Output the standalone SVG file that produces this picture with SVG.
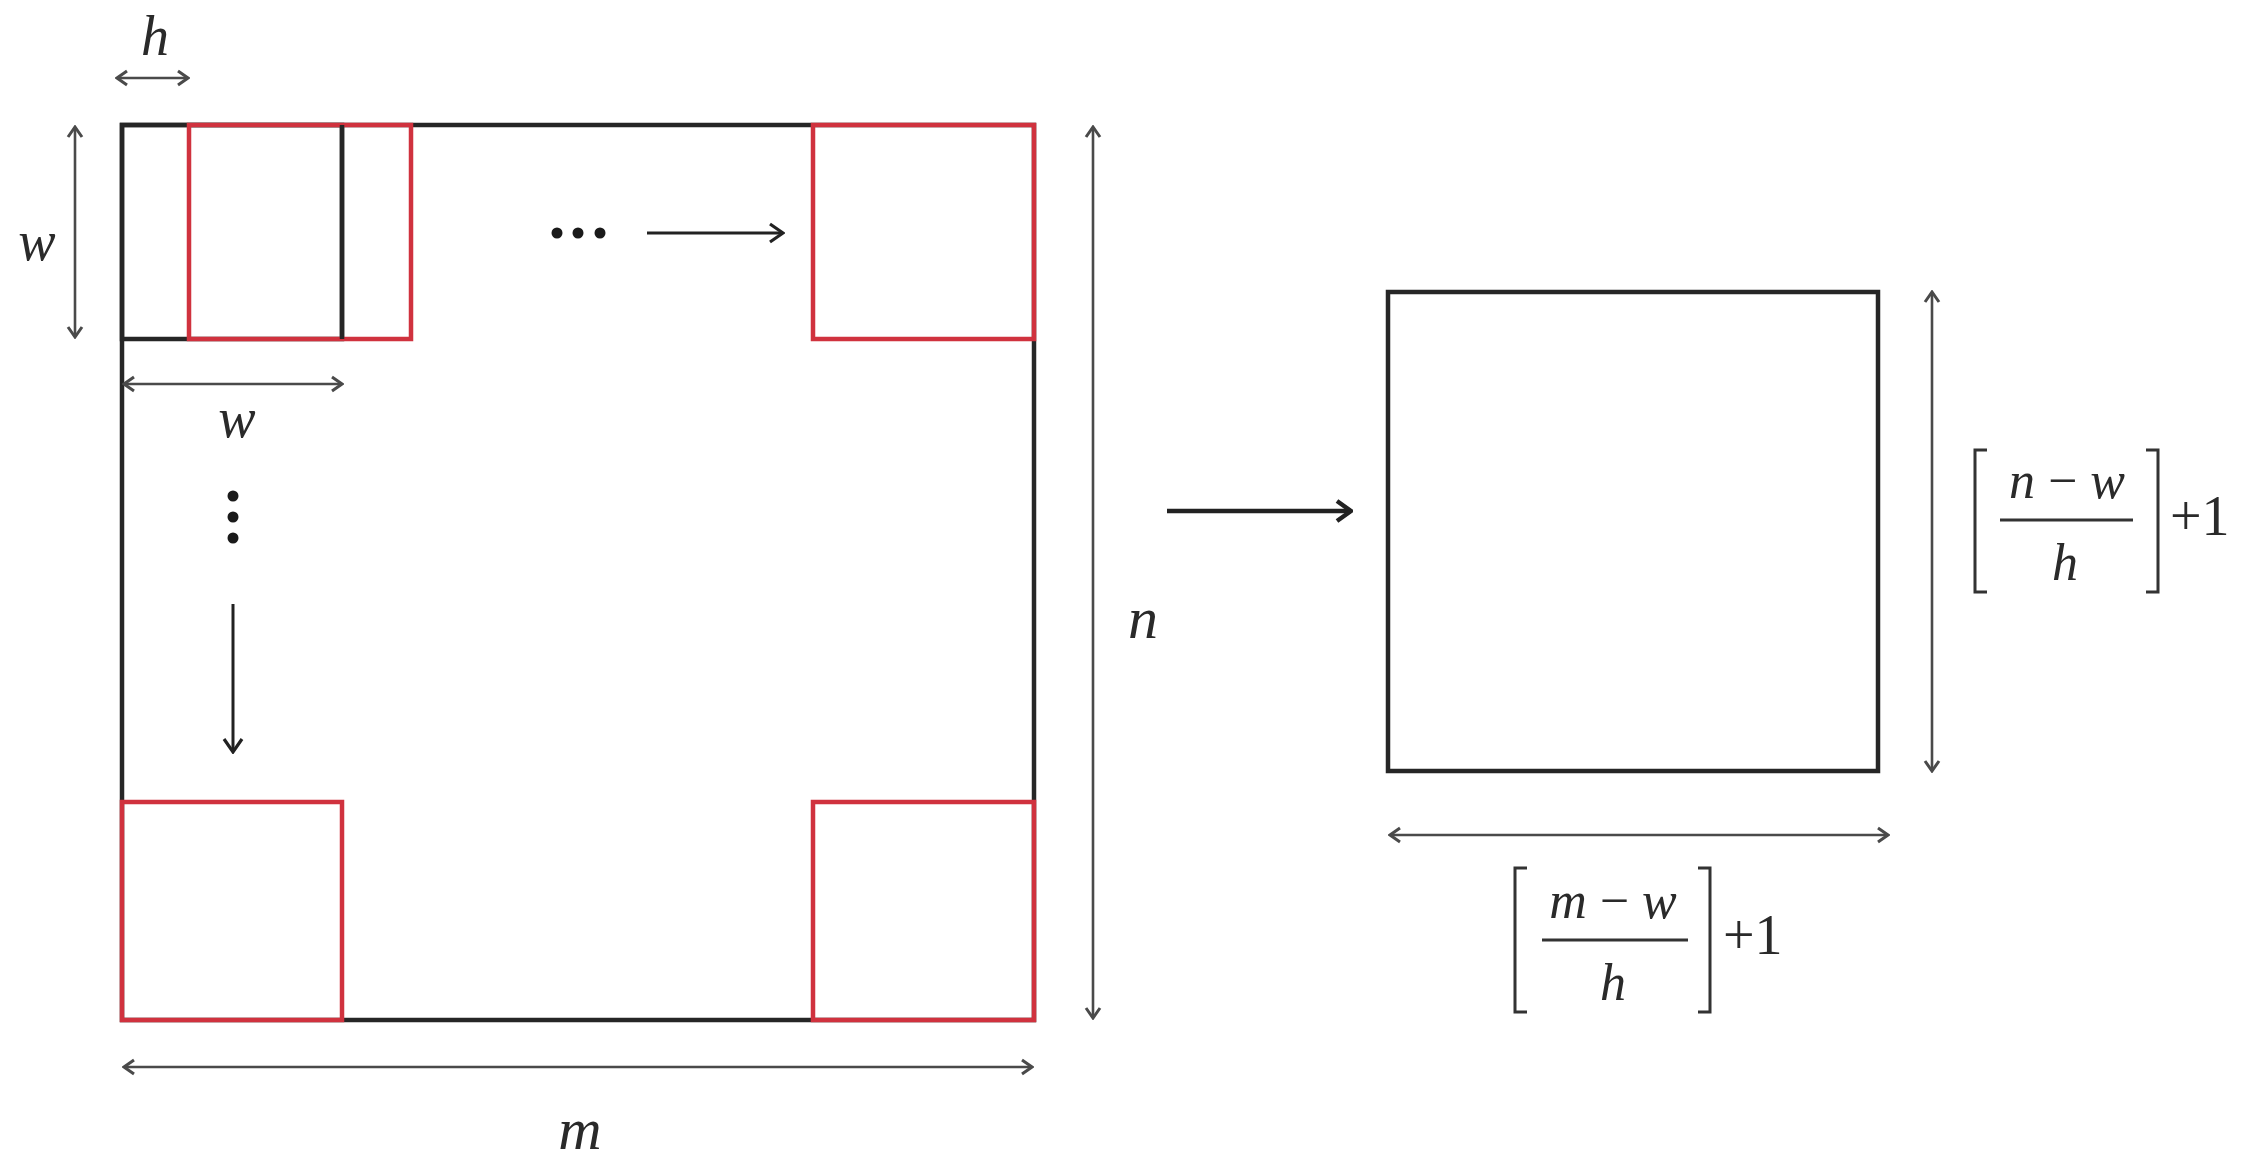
<svg xmlns="http://www.w3.org/2000/svg" width="2246" height="1167" viewBox="0 0 2246 1167">
<style>
.blk{fill:none;stroke:#262626;stroke-width:4.5}
.red{fill:none;stroke:#d0323e;stroke-width:4.5}
.dim{fill:none;stroke:#4a4a4a;stroke-width:2.6;marker-start:url(#ha);marker-end:url(#ha)}
.arr{fill:none;stroke:#222;stroke-width:3;marker-end:url(#ha2)}
.big{fill:none;stroke:#222;stroke-width:4.5;marker-end:url(#ha3)}
.lbl{font-family:"Liberation Serif",serif;font-style:italic;fill:#2a2a2a}
.up{font-style:normal}
.dot{fill:#1a1a1a}
</style>
<defs>
<marker id="ha" viewBox="-14 -9 16 18" refX="0" refY="0" markerWidth="16" markerHeight="18" markerUnits="userSpaceOnUse" orient="auto-start-reverse">
<path d="M-10,-7 L0,0 L-10,7" fill="none" stroke="#4a4a4a" stroke-width="3"/>
</marker>
<marker id="ha2" viewBox="-16 -11 18 22" refX="0" refY="0" markerWidth="18" markerHeight="22" markerUnits="userSpaceOnUse" orient="auto">
<path d="M-13,-9 L0,0 L-13,9" fill="none" stroke="#222" stroke-width="3.2"/>
</marker>
<marker id="ha3" viewBox="-18 -13 20 26" refX="0" refY="0" markerWidth="20" markerHeight="26" markerUnits="userSpaceOnUse" orient="auto">
<path d="M-14,-10 L0,0 L-14,10" fill="none" stroke="#222" stroke-width="4.5"/>
</marker>
</defs>

<g id="input-image">
<rect class="blk" x="122" y="125" width="912" height="895"/>
</g>
<g id="window-black">
<rect class="blk" x="122" y="125" width="220" height="214"/>
</g>
<g id="window-red-1">
<rect class="red" x="189" y="125" width="222" height="214"/>
<line class="blk" x1="342" y1="125" x2="342" y2="339"/>
</g>
<g id="window-top-right">
<rect class="red" x="813" y="125" width="221" height="214"/>
</g>
<g id="window-bottom-left">
<rect class="red" x="122" y="802" width="220" height="218"/>
</g>
<g id="window-bottom-right">
<rect class="red" x="813" y="802" width="221" height="218"/>
</g>
<g id="output-map">
<rect class="blk" x="1388" y="292" width="490" height="479"/>
</g>

<g id="connectors">
<line class="dim" x1="117" y1="78" x2="188" y2="78"/>
<line class="dim" x1="75" y1="127" x2="75" y2="337"/>
<line class="dim" x1="124" y1="384" x2="342" y2="384"/>
<line class="dim" x1="1093" y1="127" x2="1093" y2="1018"/>
<line class="dim" x1="124" y1="1067" x2="1032" y2="1067"/>
<line class="dim" x1="1932" y1="292" x2="1932" y2="771"/>
<line class="dim" x1="1390" y1="835" x2="1888" y2="835"/>
<line class="arr" x1="647" y1="233" x2="783" y2="233"/>
<line class="arr" x1="233" y1="604" x2="233" y2="752"/>
<line class="big" x1="1167" y1="511" x2="1351" y2="511"/>
</g>

<g id="dots">
<circle class="dot" cx="557" cy="233" r="5.5"/>
<circle class="dot" cx="578" cy="233" r="5.5"/>
<circle class="dot" cx="600" cy="233" r="5.5"/>
<circle class="dot" cx="233" cy="496" r="5.5"/>
<circle class="dot" cx="233" cy="517" r="5.5"/>
<circle class="dot" cx="233" cy="538" r="5.5"/>
</g>

<g id="labels">
<text class="lbl" x="155" y="55" font-size="56" text-anchor="middle">h</text>
<text class="lbl" x="37" y="260" font-size="56" text-anchor="middle">w</text>
<text class="lbl" x="237" y="437" font-size="56" text-anchor="middle">w</text>
<text class="lbl" x="1143" y="638" font-size="60" text-anchor="middle">n</text>
<text class="lbl" x="580" y="1149" font-size="60" text-anchor="middle">m</text>
</g>

<g id="formula-rows">
<path class="blk" style="stroke-width:3;stroke:#333" d="M1987,450 H1975 V592 H1987 M2146,450 H2158 V592 H2146"/>
<line style="stroke:#333;stroke-width:3" x1="2000" y1="520" x2="2133" y2="520"/>
<text class="lbl" x="2067" y="498" font-size="52" text-anchor="middle">n <tspan class="up">−</tspan> w</text>
<text class="lbl" x="2065" y="580" font-size="52" text-anchor="middle">h</text>
<text class="lbl" x="2170" y="535" font-size="56"><tspan class="up">+1</tspan></text>
</g>

<g id="formula-cols">
<path class="blk" style="stroke-width:3;stroke:#333" d="M1527,868 H1515 V1012 H1527 M1698,868 H1710 V1012 H1698"/>
<line style="stroke:#333;stroke-width:3" x1="1542" y1="940" x2="1688" y2="940"/>
<text class="lbl" x="1613" y="918" font-size="52" text-anchor="middle">m <tspan class="up">−</tspan> w</text>
<text class="lbl" x="1613" y="1000" font-size="52" text-anchor="middle">h</text>
<text class="lbl" x="1723" y="954" font-size="56"><tspan class="up">+1</tspan></text>
</g>
</svg>
